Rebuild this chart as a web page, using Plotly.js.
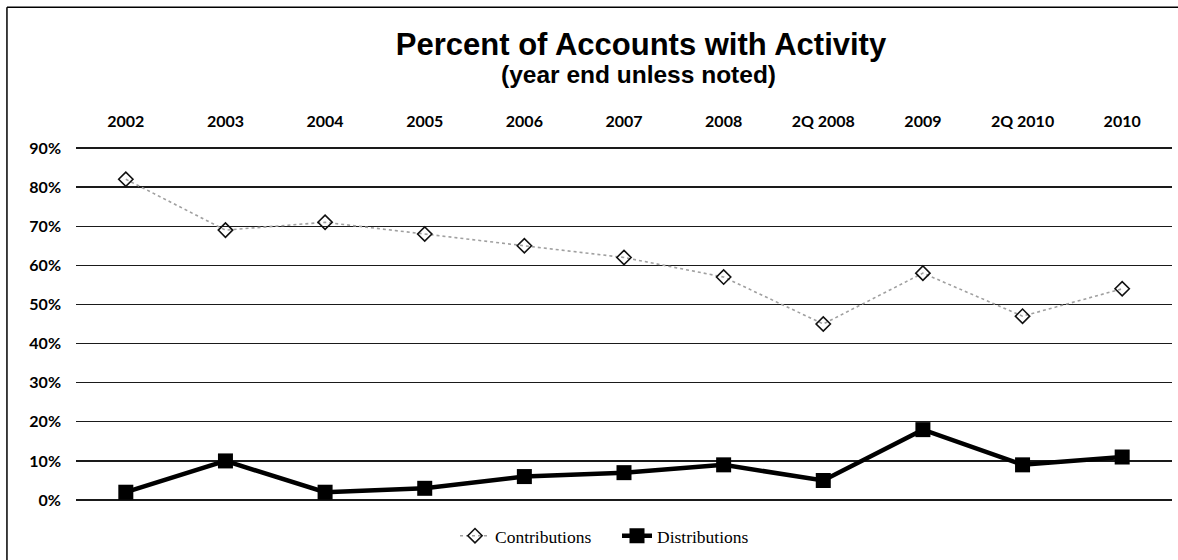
<!DOCTYPE html>
<html>
<head>
<meta charset="utf-8">
<script src="https://cdn.plot.ly/plotly-3.0.1.min.js"></script>
<style>
  html, body { margin: 0; padding: 0; background: #fff; }
  #chart { width: 1178px; height: 560px; }
</style>
</head>
<body>
<div id="chart"></div>
<script>
// Periods shown across the top axis
const periods = ["2002", "2003", "2004", "2005", "2006", "2007", "2008", "2Q 2008", "2009", "2Q 2010", "2010"];

// Share of accounts (%) with each kind of activity
const contributions = [82, 69, 71, 68, 65, 62, 57, 45, 58, 47, 54];
const distributions = [2, 10, 2, 3, 6, 7, 9, 5, 18, 9, 11];

const yTicks = [0, 10, 20, 30, 40, 50, 60, 70, 80, 90];

const chartTitle = "Percent of Accounts with Activity";
const chartSubtitle = "(year end unless noted)";

const traces = [
  {
    name: "Contributions",
    x: periods,
    y: contributions,
    type: "scatter",
    mode: "lines+markers",
    line: { color: "#a0a0a0", width: 1.6, dash: "dot" },
    marker: { symbol: "diamond-open", size: 11, color: "#111", line: { width: 1.6, color: "#111" } }
  },
  {
    name: "Distributions",
    x: periods,
    y: distributions,
    type: "scatter",
    mode: "lines+markers",
    line: { color: "#000", width: 4.5 },
    marker: { symbol: "square", size: 15, color: "#000" }
  }
];

const layout = {
  width: 1178,
  height: 560,
  // half a unit of padding on the value range keeps the 0% and 90% grid lines visible
  margin: { l: 76, r: 6, t: 146, b: 56 },
  paper_bgcolor: "#fff",
  plot_bgcolor: "#fff",
  title: {
    text: "<b>" + chartTitle + "</b>",
    font: { family: "Liberation Sans, Arial, sans-serif", size: 31, color: "#000" },
    xref: "container",
    x: 641 / 1178,
    xanchor: "center",
    yref: "container",
    y: 1 - 44 / 560,
    yanchor: "middle"
  },
  annotations: [
    {
      text: "<b>" + chartSubtitle + "</b>",
      xref: "paper", yref: "paper",
      x: 0.513, y: 1.2,
      xanchor: "center", yanchor: "middle",
      showarrow: false,
      font: { family: "Liberation Sans, Arial, sans-serif", size: 24.5, color: "#000" }
    }
  ],
  xaxis: {
    type: "category",
    side: "top",
    showgrid: false,
    zeroline: false,
    showline: false,
    ticks: "",
    ticklabelstandoff: 15,
    tickfont: { family: "Lato, sans-serif", size: 16, color: "#000", weight: "bold" },
    range: [-0.5, periods.length - 0.5],
    fixedrange: true
  },
  yaxis: {
    range: [-0.5, 90.5],
    tickvals: yTicks,
    ticktext: yTicks.map(v => v + "%"),
    showgrid: true,
    gridcolor: "#1a1a1a",
    gridwidth: 1.4,
    zeroline: false,
    showline: false,
    ticks: "",
    ticklabelstandoff: 14,
    tickfont: { family: "Lato, sans-serif", size: 16, color: "#000", weight: "bold" },
    fixedrange: true
  },
  legend: {
    orientation: "h",
    x: (455 - 76) / 1096,
    xanchor: "left",
    y: -0.095,
    yanchor: "middle",
    font: { family: "Liberation Serif, serif", size: 17.5, color: "#000" },
    entrywidth: 117,
    entrywidthmode: "pixels",
    itemgap: 0,
    bgcolor: "rgba(0,0,0,0)"
  },
  showlegend: true,
  shapes: [
    // frame: left and top edges of the chart box
    { type: "line", xref: "paper", yref: "paper", x0: -0.063, x1: -0.063, y0: 1.39, y1: -0.17, line: { color: "#000", width: 1.5 } },
    { type: "line", xref: "paper", yref: "paper", x0: -0.063, x1: 1.01, y0: 1.39, y1: 1.39, line: { color: "#000", width: 1.5 } }
  ]
};

Plotly.newPlot("chart", traces, layout, { displayModeBar: false, staticPlot: true });
</script>
</body>
</html>
